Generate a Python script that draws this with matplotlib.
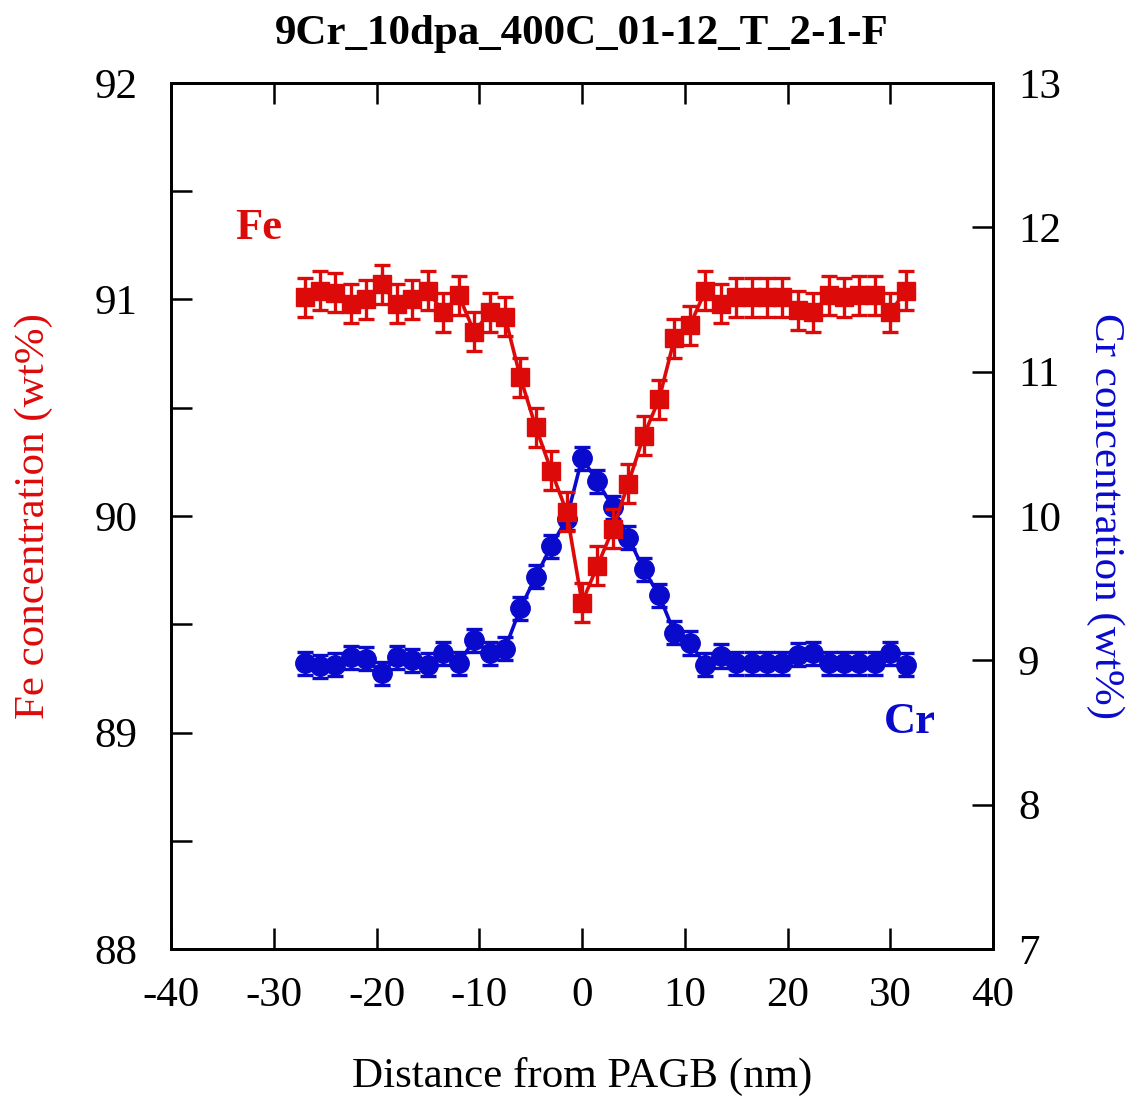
import numpy as np
import matplotlib
matplotlib.use('Agg')
import matplotlib.pyplot as plt

plt.rcParams['font.family'] = ['Liberation Serif', 'DejaVu Serif']
plt.rcParams['axes.unicode_minus'] = False

# distance from PAGB (nm)
dist = np.arange(40) * 1.5 - 27

fe = [91.01, 91.04, 91.03, 90.98, 91.00, 91.07, 90.98, 91.00, 91.04, 90.94,
      91.02, 90.85, 90.94, 90.92, 90.64, 90.41, 90.21, 90.02, 89.60, 89.77,
      89.94, 90.15, 90.37, 90.54, 90.82, 90.88, 91.04, 90.98, 91.01, 91.01,
      91.01, 91.01, 90.95, 90.94, 91.02, 91.01, 91.02, 91.02, 90.94, 91.04]
fe_err = [0.09] * 40

cr = [8.98, 8.96, 8.97, 9.02, 9.01, 8.91, 9.02, 9.00, 8.97, 9.05,
      8.98, 9.14, 9.05, 9.08, 9.36, 9.58, 9.79, 9.98, 10.40, 10.24,
      10.06, 9.85, 9.63, 9.45, 9.19, 9.12, 8.97, 9.03, 8.98, 8.98,
      8.98, 8.98, 9.04, 9.05, 8.98, 8.98, 8.98, 8.98, 9.05, 8.97]
cr_err = [0.08] * 40

red = '#dd0a0a'
blue = '#0a0acc'

fig = plt.figure(figsize=(11.41, 11.03), dpi=100)
ax1 = fig.add_axes([0.1499, 0.1396, 0.7204, 0.7852])
ax2 = ax1.twinx()

ax1.errorbar(dist, fe, yerr=fe_err, color=red, marker='s', ms=13.5, lw=2.6,
             elinewidth=2.4, capsize=6, capthick=2.4)
ax2.errorbar(dist, cr, yerr=cr_err, color=blue, marker='o', ms=14, lw=2.6,
             elinewidth=2.4, capsize=6, capthick=2.4)

ax1.set_zorder(ax2.get_zorder() + 1)
ax1.patch.set_visible(False)

ax1.set_xlim(-40, 40)
ax1.set_ylim(88, 92)
ax2.set_ylim(7, 13)
ax1.set_xticks(np.arange(-40, 41, 10))
ax1.set_yticks(np.arange(88, 92.1, 1))
ax1.set_yticks(np.arange(88.5, 92, 1), minor=True)
ax2.set_yticks(np.arange(7, 13.1, 1))

ax1.tick_params(axis='both', which='both', direction='in', length=15, width=1.8,
                labelsize=31, top=True)
ax1.tick_params(axis='y', pad=24)
ax1.tick_params(axis='x', pad=20)
ax2.tick_params(axis='y', direction='in', length=15, width=1.8, labelsize=31, pad=18)
for ax in (ax1, ax2):
    for s in ax.spines.values():
        s.set_linewidth(2)

ax1.set_xlabel('Distance from PAGB (nm)', fontsize=31, labelpad=30)
ax1.set_ylabel('Fe concentration (wt%)', fontsize=31, color=red, labelpad=30)
ax2.set_ylabel('Cr concentration (wt%)', fontsize=31, color=blue, rotation=270,
               labelpad=46)
ax1.set_title('9Cr_10dpa_400C_01-12_T_2-1-F', fontsize=31, fontweight='bold', pad=28)

ax1.text(-31.5, 91.33, 'Fe', color=red, fontsize=32, fontweight='bold',
         ha='center', va='center')
ax1.text(31.9, 89.05, 'Cr', color=blue, fontsize=32, fontweight='bold',
         ha='center', va='center')

fig.savefig('out.png', dpi=100)
